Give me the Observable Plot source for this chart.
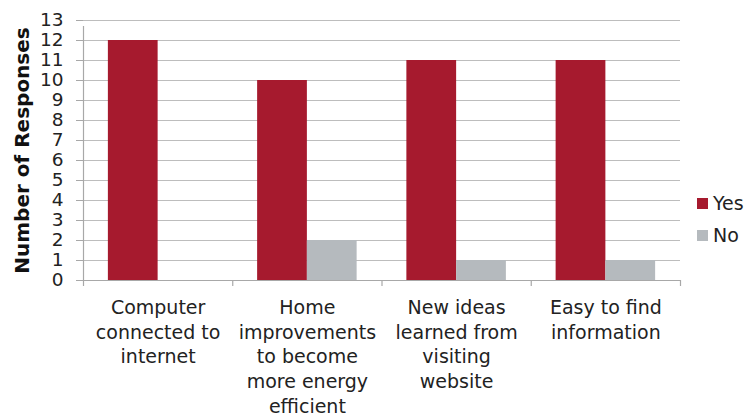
<!DOCTYPE html>
<html>
<head>
<meta charset="utf-8">
<script src="https://cdn.jsdelivr.net/npm/d3@7"></script>
<script src="https://cdn.jsdelivr.net/npm/@observablehq/plot@0.6"></script>
<style>
  body { margin: 0; background: #fff; font-family: "DejaVu Sans", Verdana, sans-serif; }
  #wrap { position: relative; width: 748px; height: 416px; overflow: hidden; }
  #legend { position: absolute; left: 697px; top: 187px; font-size: 19px; color: #222; }
  .item { display: flex; align-items: center; height: 32px; white-space: nowrap; }
  .sw { width: 11px; height: 11px; margin-right: 5px; flex: none; }
</style>
</head>
<body>
<div id="wrap"><div id="chart"></div><div id="legend"></div></div>
<script>
const categories = [
  "Computer\nconnected to\ninternet",
  "Home\nimprovements\nto become\nmore energy\nefficient",
  "New ideas\nlearned from\nvisiting\nwebsite",
  "Easy to find\ninformation"
];
const yesValues = [12, 10, 11, 11];
const noValues = [0, 2, 1, 1];
const seriesNames = ["Yes", "No"];
const seriesColors = ["#A61A2E", "#B5BABE"];
const yTicks = d3.range(0, 14);

const table = [];
categories.forEach((c, i) => {
  [yesValues, noValues].forEach((vals, s) => {
    table.push({cat: i, series: seriesNames[s], s, value: vals[i]});
  });
});

const axisColor = "#A8A8A8";
const gridColor = "#BDBDBD";

const chart = Plot.plot({
  width: 748,
  height: 416,
  marginTop: 20,
  marginBottom: 136,
  marginLeft: 83,
  marginRight: 68,
  style: {fontFamily: "DejaVu Sans, Verdana, sans-serif", color: "#222", background: "white", overflow: "visible"},
  x: {domain: [0, categories.length], axis: null},
  y: {domain: [0, 13], axis: null},
  color: {domain: seriesNames, range: seriesColors},
  marks: [
    Plot.gridY(yTicks, {stroke: gridColor, strokeOpacity: 1, strokeWidth: 1.2}),
    Plot.rectY(table, {
      x1: d => d.cat + 1 / 6 + d.s / 3,
      x2: d => d.cat + 1 / 6 + (d.s + 1) / 3,
      y1: 0,
      y2: "value",
      fill: "series"
    }),
    Plot.ruleX(d3.range(0, categories.length + 1), {y1: 0, y2: 0, insetBottom: -6, stroke: axisColor, strokeWidth: 1.2}),
    Plot.ruleX([0], {y1: 0, y2: 13, insetBottom: -6, stroke: axisColor, strokeWidth: 1.2}),
    Plot.ruleY([0], {stroke: axisColor, strokeWidth: 1.2}),
    Plot.axisY({ticks: yTicks, tickSize: 7, tickPadding: 13, fontSize: 18.5, stroke: axisColor, fill: "#222", label: null}),
    Plot.axisY({ticks: [], label: "Number of Responses", labelAnchor: "center", labelArrow: "none",
                labelOffset: 69, fontSize: 20, fontWeight: "bold", fill: "#111"}),
    Plot.axisX({
      ticks: categories.map((_, i) => i + 0.5),
      tickFormat: t => categories[Math.floor(t)],
      tickSize: 0,
      tickPadding: 16,
      fontSize: 19,
      lineHeight: 1.3,
      fill: "#222",
      label: null
    })
  ]
});
document.getElementById("chart").appendChild(chart);

const legend = document.getElementById("legend");
seriesNames.forEach((name, i) => {
  const item = document.createElement("div");
  item.className = "item";
  const sw = document.createElement("span");
  sw.className = "sw";
  sw.style.background = seriesColors[i];
  const tx = document.createElement("span");
  tx.textContent = name;
  item.appendChild(sw);
  item.appendChild(tx);
  legend.appendChild(item);
});
</script>
</body>
</html>
